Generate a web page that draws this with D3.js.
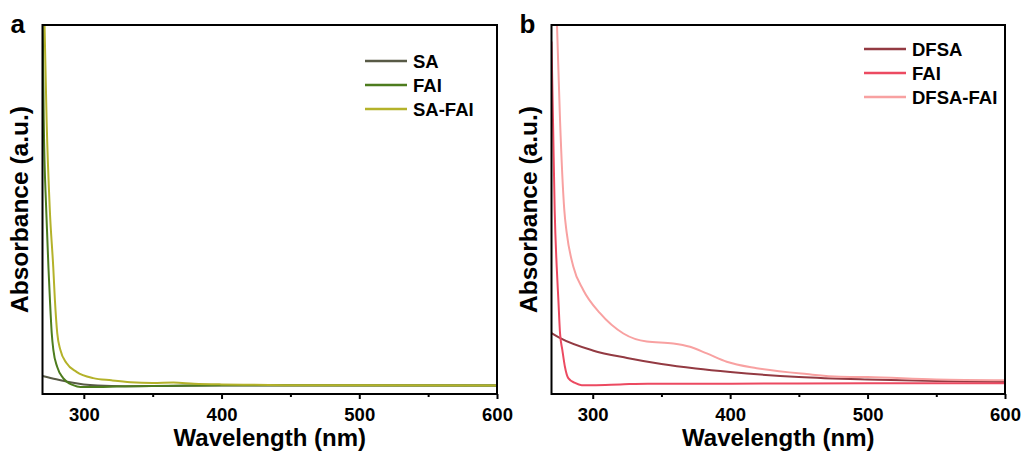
<!DOCTYPE html>
<html><head><meta charset="utf-8">
<script src="https://cdn.jsdelivr.net/npm/d3@7"></script>
<style>
html,body{margin:0;padding:0;background:#fff;}
svg{display:block;font-family:"Liberation Sans",Arial,Helvetica,sans-serif;font-weight:bold;}
</style></head>
<body><svg id="chart" width="1027" height="453"></svg>
<script>
// ---- data (wavelength in nm, absorbance in arbitrary units) ----
const xTicks = [300, 400, 500, 600];
const xMinorTicks = [350, 450, 550];

// panel a
const saWl     = [270, 280, 290, 300, 310, 330, 360, 400, 500, 600];
const saAbs    = [0.049, 0.040, 0.032, 0.026, 0.023, 0.021, 0.022, 0.023, 0.023, 0.023];
const faiAWl   = [270, 270.9, 272.7, 274.3, 275.4, 276.7, 277.9, 280.7, 285, 292.3, 297.6, 310, 324, 350, 400, 600];
const faiAAbs  = [1.07, 0.743, 0.499, 0.344, 0.255, 0.165, 0.119, 0.073, 0.043, 0.024, 0.019, 0.019, 0.020, 0.022, 0.024, 0.023];
const saFaiWl  = [270, 271.5, 273, 275.3, 277.8, 279, 280.7, 283, 287.4, 294.7, 306.8, 320, 334, 350, 365, 380, 400, 420, 450, 500, 600];
const saFaiAbs = [1.26, 1.0, 0.74, 0.50, 0.344, 0.255, 0.165, 0.119, 0.084, 0.060, 0.043, 0.037, 0.032, 0.030, 0.031, 0.028, 0.026, 0.025, 0.024, 0.024, 0.023];

// panel b
const dfsaWl     = [270, 276, 300, 325, 350, 375, 400, 450, 500, 550, 600];
const dfsaAbs    = [0.165, 0.152, 0.118, 0.0976, 0.0813, 0.0691, 0.0596, 0.0461, 0.0393, 0.0352, 0.0325];
const faiBWl     = [270, 271.2, 272.3, 273.8, 275, 276.2, 277.9, 279.8, 282.2, 287.1, 292, 300, 320, 340, 400, 500, 600];
const faiBAbs    = [0.955, 0.72, 0.50, 0.344, 0.255, 0.165, 0.119, 0.073, 0.043, 0.030, 0.024, 0.024, 0.026, 0.028, 0.028, 0.029, 0.029];
const dfsaFaiWl  = [272.5, 274, 276.2, 279.3, 281.1, 285.9, 293.1, 305.3, 322.3, 339.3, 358.6, 370.8, 383, 397.5, 419.3, 455.7, 480, 500, 550, 600];
const dfsaFaiAbs = [1.17, 1.0, 0.743, 0.499, 0.436, 0.345, 0.282, 0.219, 0.164, 0.142, 0.137, 0.128, 0.110, 0.0875, 0.070, 0.054, 0.047, 0.046, 0.039, 0.037];

const panelA = {
  label: "a",
  left: 42.5, right: 497,
  series: [
    {name: "SA",     wl: saWl,    abs: saAbs,    color: "#585a46"},
    {name: "FAI",    wl: faiAWl,  abs: faiAAbs,  color: "#4d7c1e"},
    {name: "SA-FAI", wl: saFaiWl, abs: saFaiAbs, color: "#b4b22a"}
  ],
  legendX: 365, legendY: 61
};
const panelB = {
  label: "b",
  left: 551.5, right: 1005,
  series: [
    {name: "DFSA",     wl: dfsaWl,    abs: dfsaAbs,    color: "#933a42"},
    {name: "FAI",      wl: faiBWl,    abs: faiBAbs,    color: "#ec4a61"},
    {name: "DFSA-FAI", wl: dfsaFaiWl, abs: dfsaFaiAbs, color: "#f8a1a1"}
  ],
  legendX: 864, legendY: 49
};

const svg = d3.select("#chart");
const plotTop = 25, plotBottom = 394;

function drawPanel(p, idx) {
  const x = d3.scaleLinear().domain([270, 600]).range([p.left, p.right]);
  const y = d3.scaleLinear().domain([0, 1]).range([plotBottom, plotTop]);
  const g = svg.append("g");
  const clipId = "clip" + idx;
  svg.append("clipPath").attr("id", clipId).append("rect")
    .attr("x", p.left).attr("y", plotTop).attr("width", p.right - p.left).attr("height", plotBottom - plotTop);

  const line = d3.line().x(d => x(d[0])).y(d => y(d[1])).curve(d3.curveMonotoneX);
  const lg = g.append("g").attr("clip-path", `url(#${clipId})`);
  p.series.forEach(s => {
    lg.append("path").datum(s.wl.map((w, i) => [w, s.abs[i]]))
      .attr("d", line).attr("fill", "none").attr("stroke", s.color)
      .attr("stroke-width", 2).attr("stroke-linejoin", "round");
  });

  // bottom axis (major)
  const ax = g.append("g").attr("transform", `translate(0,${plotBottom})`)
    .call(d3.axisBottom(x).tickValues(xTicks).tickSize(5).tickPadding(9).tickSizeOuter(0));
  ax.select(".domain").remove();
  ax.selectAll(".tick line").attr("stroke", "#000").attr("stroke-width", 2);
  ax.selectAll(".tick text").attr("font-size", "18.5px").attr("font-weight", "bold")
    .attr("font-family", "Liberation Sans, Arial, sans-serif").attr("fill", "#000");
  // minor ticks
  const axm = g.append("g").attr("transform", `translate(0,${plotBottom})`)
    .call(d3.axisBottom(x).tickValues(xMinorTicks).tickSize(3).tickFormat(""));
  axm.select(".domain").remove();
  axm.selectAll(".tick line").attr("stroke", "#000").attr("stroke-width", 2);

  // frame
  g.append("rect").attr("x", p.left).attr("y", plotTop)
    .attr("width", p.right - p.left).attr("height", plotBottom - plotTop)
    .attr("fill", "none").attr("stroke", "#000").attr("stroke-width", 2);

  // titles
  g.append("text").attr("x", (p.left + p.right) / 2).attr("y", 446)
    .attr("text-anchor", "middle").attr("font-size", "24px").text("Wavelength (nm)");
  g.append("text").attr("transform", `translate(${p.left - 14.5},${(plotTop + plotBottom) / 2}) rotate(-90)`)
    .attr("text-anchor", "middle").attr("font-size", "24.5px").text("Absorbance (a.u.)");
  g.append("text").attr("x", p.left - 32).attr("y", 33)
    .attr("font-size", "26px").text(p.label);

  // legend
  const leg = g.append("g");
  p.series.forEach((s, i) => {
    const ly = p.legendY + i * 24;
    leg.append("line").attr("x1", p.legendX).attr("x2", p.legendX + 42)
      .attr("y1", ly).attr("y2", ly).attr("stroke", s.color).attr("stroke-width", 2.5);
    leg.append("text").attr("x", p.legendX + 48).attr("y", ly).attr("dy", "0.36em")
      .attr("font-size", "18.5px").text(s.name);
  });
}
drawPanel(panelA, 0);
drawPanel(panelB, 1);
</script></body></html>
